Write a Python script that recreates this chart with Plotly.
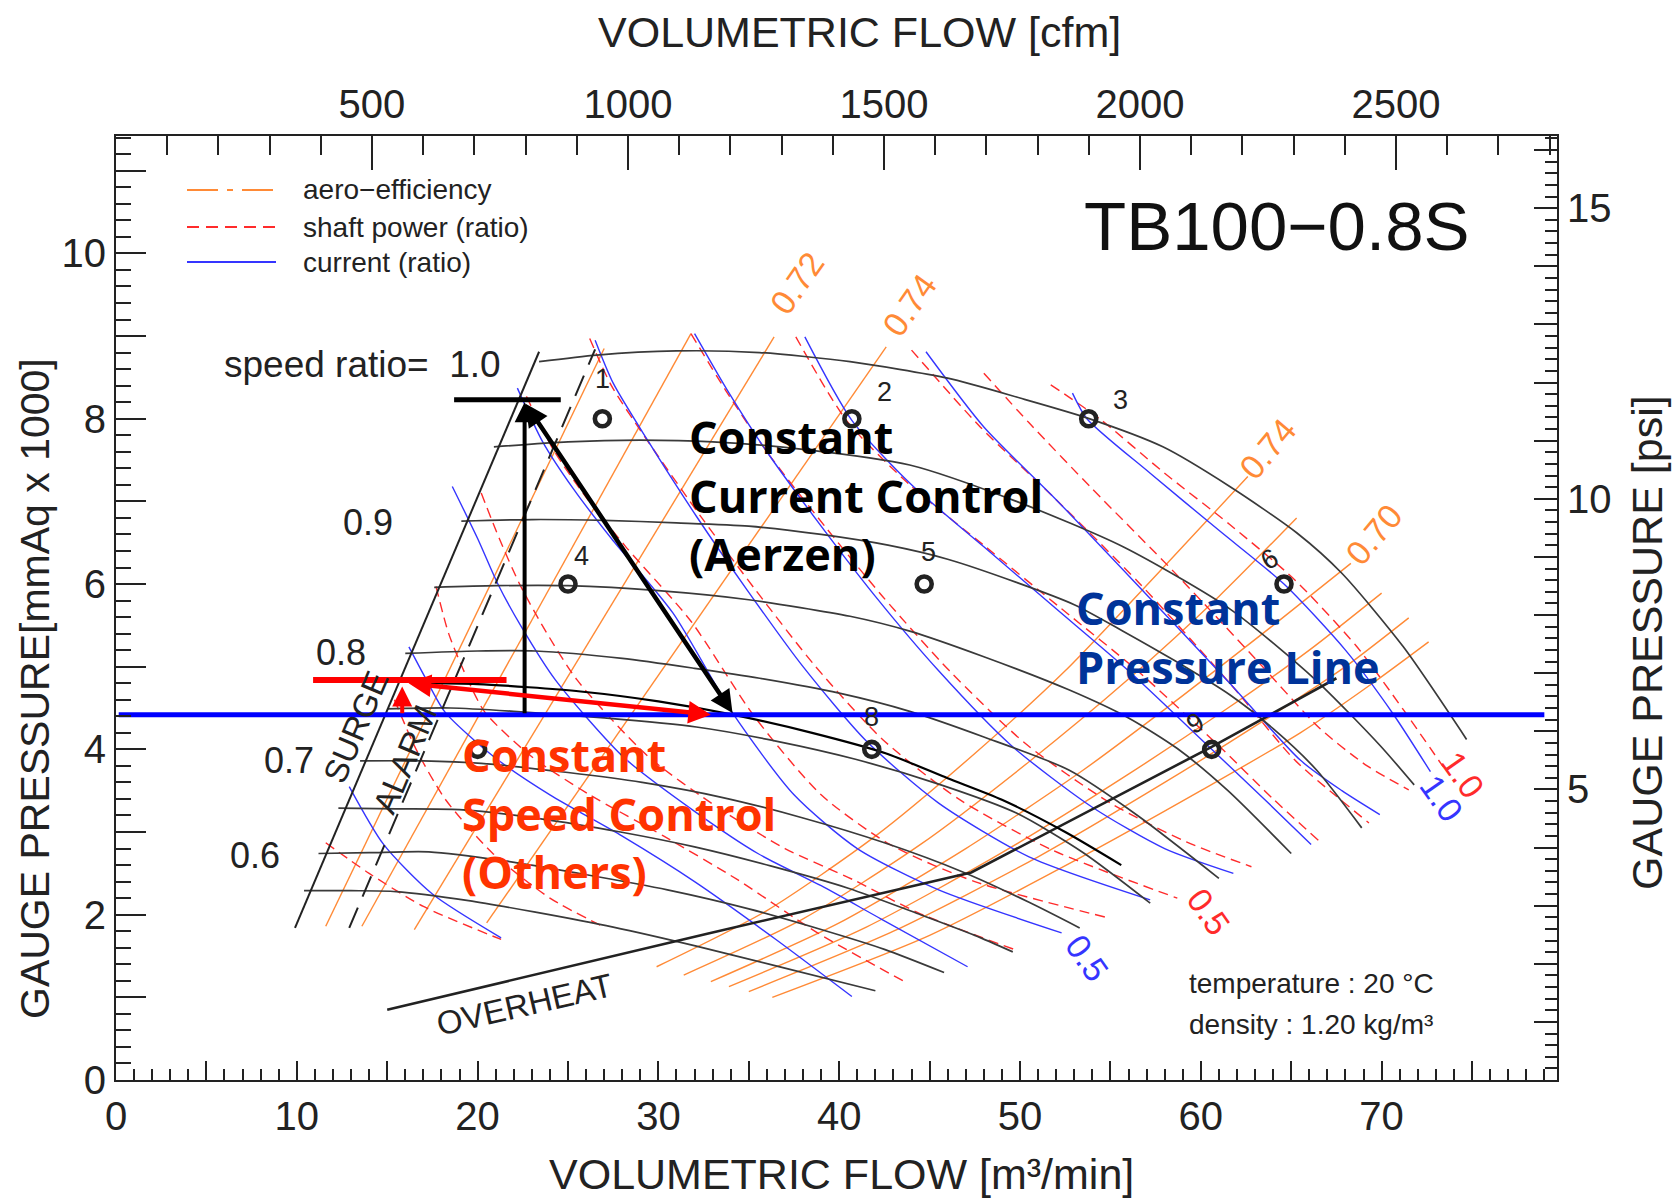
import plotly.graph_objects as go

# ------------------------------------------------------------------
# Frame extents and unit conversions
# ------------------------------------------------------------------
FLOW_MAX = 79.7            # m3/min at right frame edge
PRES_MAX = 11.42           # mmAq x 1000 at top frame edge
CFM_PER_M3MIN = 35.3147
PSI_PER_KMMAQ = 1.4223

# ------------------------------------------------------------------
# Speed lines  (flow m3/min, gauge pressure mmAq x 1000)
# ------------------------------------------------------------------
spd_100_q = [23.4, 26.6, 31.0, 35.6, 40.6, 46.0, 50.0, 53.7, 57.9, 61.6, 65.3, 67.8, 71.2, 74.7]
spd_100_p = [8.69, 8.77, 8.82, 8.80, 8.69, 8.49, 8.25, 8.01, 7.66, 7.18, 6.62, 6.13, 5.24, 4.12]
spd_095_q = [20.9, 25.0, 29.0, 33.0, 38.0, 43.9, 49.8, 55.7, 61.6, 66.3, 69.9, 71.8]
spd_095_p = [7.66, 7.72, 7.74, 7.72, 7.63, 7.44, 7.00, 6.45, 5.70, 4.85, 4.05, 3.57]
spd_090_q = [19.1, 23.0, 27.0, 31.0, 35.0, 39.0, 42.7, 46.0, 49.8, 53.0, 55.7, 58.5, 61.6, 64.0, 66.4, 68.9]
spd_090_p = [6.76, 6.78, 6.77, 6.74, 6.70, 6.60, 6.47, 6.30, 6.02, 5.75, 5.43, 5.08, 4.66, 4.25, 3.75, 3.05]
spd_085_q = [17.6, 21.0, 25.0, 30.0, 35.0, 40.6, 43.9, 48.0, 52.7, 56.0, 58.7, 61.5, 65.0]
spd_085_p = [5.96, 5.98, 5.98, 5.92, 5.81, 5.61, 5.43, 5.12, 4.72, 4.38, 4.01, 3.50, 2.74]
spd_080_q = [16.0, 20.0, 23.2, 28.0, 32.0, 35.6, 40.0, 43.9, 48.0, 52.7, 56.5, 61.0]
spd_080_p = [5.16, 5.19, 5.19, 5.10, 4.98, 4.86, 4.68, 4.46, 4.15, 3.75, 3.20, 2.44]
spd_075_q = [15.0, 18.5, 22.0, 27.0, 32.1, 36.5, 40.9, 45.5, 49.8, 53.5, 57.2]
spd_075_p = [4.49, 4.50, 4.46, 4.38, 4.27, 4.10, 3.88, 3.58, 3.23, 2.75, 2.14]
spd_070_q = [13.5, 17.0, 20.2, 25.0, 29.1, 33.5, 38.0, 42.5, 46.8, 50.5, 53.3]
spd_070_p = [3.86, 3.86, 3.83, 3.72, 3.60, 3.42, 3.17, 2.87, 2.52, 2.15, 1.84]
spd_065_q = [12.3, 15.5, 19.0, 23.5, 27.9, 32.0, 36.2, 40.5, 44.5, 47.5, 49.6]
spd_065_p = [3.29, 3.28, 3.27, 3.16, 3.00, 2.82, 2.59, 2.32, 2.00, 1.75, 1.55]
spd_060_q = [11.2, 14.0, 17.3, 21.5, 26.1, 30.5, 35.0, 39.0, 42.5, 45.8]
spd_060_p = [2.74, 2.75, 2.76, 2.65, 2.48, 2.30, 2.07, 1.82, 1.58, 1.30]
spd_055_q = [10.4, 13.0, 15.5, 19.5, 23.2, 27.5, 32.1, 36.5, 42.0]
spd_055_p = [2.29, 2.29, 2.28, 2.17, 2.03, 1.85, 1.62, 1.38, 1.08]

# ------------------------------------------------------------------
# Current ratio lines
# ------------------------------------------------------------------
cur_02_q = [12.9, 14.8, 17.5, 21.3]
cur_02_p = [3.55, 2.85, 2.25, 1.72]
cur_03_q = [16.2, 17.1, 18.2, 20.9, 24.0, 28.0, 32.0, 36.5, 40.7]
cur_03_p = [5.24, 4.87, 4.45, 3.91, 3.45, 2.95, 2.40, 1.70, 1.01]
cur_04_q = [18.6, 20.0, 21.1, 22.4, 24.3, 28.1, 32.0, 35.5, 39.0, 42.3, 47.1]
cur_04_p = [7.18, 6.55, 6.01, 5.49, 4.84, 3.90, 3.25, 2.74, 2.35, 1.95, 1.37]
cur_05_q = [22.2, 23.6, 25.3, 27.4, 30.8, 34.1, 37.5, 41.0, 45.5, 52.3]
cur_05_p = [8.37, 7.72, 7.15, 6.55, 5.65, 4.44, 3.45, 2.80, 2.30, 1.78]
cur_06_q = [26.5, 27.5, 29.4, 32.1, 34.9, 38.0, 41.5, 45.5, 50.5, 57.2]
cur_06_p = [8.95, 8.43, 7.74, 6.82, 5.93, 5.00, 4.10, 3.35, 2.70, 2.18]
cur_07_q = [32.0, 33.8, 36.0, 39.0, 42.0, 45.5, 49.5, 54.0, 58.0, 61.8]
cur_07_p = [9.03, 8.35, 7.60, 6.70, 5.85, 4.95, 4.05, 3.30, 2.80, 2.50]
cur_08_q = [38.1, 40.7, 44.0, 48.0, 52.0, 56.0, 60.6, 63.5, 66.1]
cur_08_p = [8.99, 7.98, 7.20, 6.45, 5.70, 4.95, 4.00, 3.40, 2.85]
cur_09_q = [44.8, 48.0, 52.0, 56.4, 61.6, 65.5, 67.8, 69.9]
cur_09_p = [8.81, 7.90, 7.02, 6.01, 4.80, 3.87, 3.50, 3.21]
cur_10_q = [52.9, 53.7, 57.2, 61.0, 64.6, 68.0, 70.6, 72.7]
cur_10_p = [8.31, 8.00, 7.34, 6.65, 6.00, 5.20, 4.44, 3.73]

# ------------------------------------------------------------------
# Shaft power ratio lines (0.5 ... 1.0 are pow_05 ... pow_10)
# ------------------------------------------------------------------
pow_00_q = [11.6, 14.0, 17.0, 21.3]
pow_00_p = [2.87, 2.50, 2.10, 1.70]
pow_01_q = [15.4, 16.6, 18.2, 20.8, 24.0, 27.0]
pow_01_p = [4.60, 4.00, 3.40, 2.75, 2.20, 1.85]
pow_02_q = [17.7, 18.4, 19.4, 20.4, 23.0, 26.2, 30.3, 34.4, 38.8, 43.7]
pow_02_p = [5.97, 5.40, 4.87, 4.45, 3.91, 3.45, 2.95, 2.42, 1.78, 1.18]
pow_03_q = [20.2, 21.2, 22.3, 23.6, 25.5, 29.4, 33.4, 37.0, 40.8, 44.4, 49.8]
pow_03_p = [7.10, 6.55, 6.01, 5.49, 4.84, 3.92, 3.28, 2.80, 2.42, 2.02, 1.57]
pow_04_q = [22.7, 24.2, 26.0, 28.2, 31.8, 35.3, 39.0, 42.8, 47.5, 54.9]
pow_04_p = [8.27, 7.62, 7.05, 6.45, 5.55, 4.40, 3.45, 2.85, 2.40, 1.96]
pow_05_q = [26.2, 27.4, 29.5, 32.4, 35.4, 38.7, 42.4, 46.6, 51.8, 58.7]
pow_05_p = [8.97, 8.40, 7.70, 6.80, 5.92, 5.00, 4.12, 3.40, 2.78, 2.20]
pow_06_q = [31.8, 33.7, 36.0, 39.2, 42.4, 46.1, 50.3, 55.0, 59.2, 62.8]
pow_06_p = [9.03, 8.35, 7.60, 6.70, 5.85, 4.95, 4.07, 3.35, 2.88, 2.58]
pow_07_q = [37.6, 40.4, 43.9, 48.1, 52.3, 56.5, 61.2, 64.0, 66.5]
pow_07_p = [8.99, 7.98, 7.20, 6.45, 5.70, 4.95, 4.00, 3.40, 2.90]
pow_08_q = [44.0, 47.8, 52.0, 56.6, 61.6, 65.2, 67.4, 69.3]
pow_08_p = [8.83, 7.90, 7.02, 6.01, 4.80, 3.87, 3.45, 3.11]
pow_09_q = [48.0, 50.5, 54.0, 58.5, 63.0, 66.6, 69.2, 71.5]
pow_09_p = [8.55, 7.95, 7.15, 6.15, 5.10, 4.25, 3.80, 3.51]
pow_10_q = [51.7, 54.4, 58.0, 61.6, 65.2, 68.6, 71.2, 73.4]
pow_10_p = [8.41, 8.00, 7.34, 6.72, 6.05, 5.25, 4.48, 3.79]

# ------------------------------------------------------------------
# Aero-efficiency lines (left flank rising to the top, right flank)
# ------------------------------------------------------------------
eff_l1_q = [11.6, 27.0]
eff_l1_p = [1.86, 8.85]
eff_l2_q = [13.6, 31.8]
eff_l2_p = [1.86, 9.03]
eff_l3_q = [16.5, 36.4]          # 0.72
eff_l3_p = [1.82, 8.99]
eff_l4_q = [20.5, 42.6]          # 0.74
eff_l4_p = [1.90, 8.87]
eff_r1_q = [29.9, 36.0, 42.0, 47.5, 52.5, 57.5, 62.6]   # 0.74
eff_r1_p = [1.37, 2.05, 2.95, 3.95, 4.95, 6.10, 7.30]
eff_r2_q = [31.4, 38.0, 44.5, 50.5, 56.0, 61.0, 65.3]   # 0.72
eff_r2_p = [1.27, 1.95, 2.85, 3.85, 4.85, 5.85, 6.80]
eff_r3_q = [32.9, 40.0, 47.0, 53.5, 59.0, 64.0, 68.3]   # 0.70
eff_r3_p = [1.19, 1.90, 2.80, 3.75, 4.65, 5.50, 6.25]
eff_r4_q = [33.9, 41.5, 49.0, 56.0, 61.5, 66.0, 70.0]
eff_r4_p = [1.13, 1.85, 2.75, 3.70, 4.50, 5.20, 5.89]
eff_r5_q = [35.0, 43.0, 51.0, 58.0, 63.5, 68.0, 71.5]
eff_r5_p = [1.07, 1.80, 2.70, 3.60, 4.35, 5.00, 5.59]
eff_r6_q = [36.3, 45.0, 53.0, 60.0, 65.5, 69.5, 72.6]
eff_r6_p = [1.00, 1.75, 2.65, 3.50, 4.20, 4.80, 5.30]

# ------------------------------------------------------------------
# Limits, operating curve, test points, control annotations
# ------------------------------------------------------------------
surge_q = [9.9, 23.4]
surge_p = [1.84, 8.81]
alarm_q = [12.9, 26.5]
alarm_p = [1.84, 8.84]
overheat_q = [15.0, 32.7, 47.3, 60.6, 67.5]
overheat_p = [0.85, 1.77, 2.51, 4.03, 4.86]
system_q = [16.5, 20.0, 25.7, 30.0, 34.1, 38.5, 42.6, 46.0, 49.0, 52.5, 55.6]
system_p = [4.80, 4.79, 4.70, 4.58, 4.42, 4.20, 3.95, 3.65, 3.39, 3.00, 2.60]

test_q = [26.9, 40.7, 53.8, 25.0, 44.7, 64.6, 20.0, 41.8, 60.6]
test_p = [8.0, 8.0, 8.0, 6.0, 6.0, 6.0, 4.0, 4.0, 4.0]
test_id = ["1", "2", "3", "4", "5", "6", "7", "8", "9"]

setpoint_p = 4.42                 # constant pressure line
surge_start_q, surge_start_p = 22.6, 8.20      # full-speed surge point
cc_end_q, cc_end_p = 34.1, 4.44                # constant current end point
cs_start_q, cs_start_p = 16.1, 4.80            # constant speed surge point
cs_end_q, cs_end_p = 32.9, 4.42
cs_riser_q = 15.83
bar_top_q = [18.7, 24.6]
bar_top_p = 8.23
bar_red_q = [10.9, 21.6]
bar_red_p = 4.84

# ------------------------------------------------------------------
ORANGE = "#FF8A36"
RED = "#FF2B2B"
BLUE = "#3535FF"
INK = "#222222"
SPEED = "#3a3a3a"
FONT = "Liberation Sans"

fig = go.Figure()


def curve(q, p, color, width, dash="solid", shape="spline"):
    fig.add_trace(go.Scatter(
        x=q, y=p, mode="lines", hoverinfo="skip", showlegend=False,
        line=dict(color=color, width=width, dash=dash, shape=shape, smoothing=0.7)))


for q, p in [(eff_l1_q, eff_l1_p), (eff_l2_q, eff_l2_p), (eff_l3_q, eff_l3_p), (eff_l4_q, eff_l4_p)]:
    curve(q, p, ORANGE, 1.4, shape="linear")
for q, p in [(eff_r1_q, eff_r1_p), (eff_r2_q, eff_r2_p), (eff_r3_q, eff_r3_p),
             (eff_r4_q, eff_r4_p), (eff_r5_q, eff_r5_p), (eff_r6_q, eff_r6_p)]:
    curve(q, p, ORANGE, 1.4)

for q, p in [(pow_00_q, pow_00_p), (pow_01_q, pow_01_p), (pow_02_q, pow_02_p), (pow_03_q, pow_03_p),
             (pow_04_q, pow_04_p), (pow_05_q, pow_05_p), (pow_06_q, pow_06_p), (pow_07_q, pow_07_p),
             (pow_08_q, pow_08_p), (pow_09_q, pow_09_p), (pow_10_q, pow_10_p)]:
    curve(q, p, RED, 1.4, dash="10px,6px")

for q, p in [(cur_02_q, cur_02_p), (cur_03_q, cur_03_p), (cur_04_q, cur_04_p), (cur_05_q, cur_05_p),
             (cur_06_q, cur_06_p), (cur_07_q, cur_07_p), (cur_08_q, cur_08_p), (cur_09_q, cur_09_p),
             (cur_10_q, cur_10_p)]:
    curve(q, p, BLUE, 1.4)

for q, p in [(spd_100_q, spd_100_p), (spd_095_q, spd_095_p), (spd_090_q, spd_090_p),
             (spd_085_q, spd_085_p), (spd_080_q, spd_080_p), (spd_075_q, spd_075_p),
             (spd_070_q, spd_070_p), (spd_065_q, spd_065_p), (spd_060_q, spd_060_p),
             (spd_055_q, spd_055_p)]:
    curve(q, p, SPEED, 1.7)

curve(surge_q, surge_p, INK, 2.0, shape="linear")
curve(alarm_q, alarm_p, INK, 2.0, dash="22px,12px", shape="linear")
curve(overheat_q, overheat_p, INK, 2.6, shape="linear")
curve(system_q, system_p, "#000000", 2.2)

# test points
fig.add_trace(go.Scatter(
    x=test_q, y=test_p, mode="markers", hoverinfo="skip", showlegend=False,
    marker=dict(symbol="circle-open", size=15, color=INK, line=dict(width=4.6, color=INK))))

# constant pressure line
fig.add_trace(go.Scatter(
    x=[0.15, 79.0], y=[setpoint_p, setpoint_p], mode="lines", hoverinfo="skip",
    showlegend=False, line=dict(color="#0000FF", width=5)))

# dummy trace so the cfm / psi axes are created
fig.add_trace(go.Scatter(x=[None], y=[None], xaxis="x2", yaxis="y2", showlegend=False,
                         hoverinfo="skip"))

# ------------------------------------------------------------------
# Control annotations: bars, arrows
# ------------------------------------------------------------------
shapes = [
    dict(type="line", xref="x", yref="y", x0=bar_top_q[0], x1=bar_top_q[1], y0=bar_top_p, y1=bar_top_p,
         line=dict(color="#000000", width=5)),
    dict(type="line", xref="x", yref="y", x0=bar_red_q[0], x1=bar_red_q[1], y0=bar_red_p, y1=bar_red_p,
         line=dict(color="#FF0000", width=6)),
]


def arrow(x0, y0, x1, y1, color, width, both=False):
    fig.add_annotation(x=x1, y=y1, ax=x0, ay=y0, xref="x", yref="y", axref="x", ayref="y",
                       text="", showarrow=True, arrowhead=2, arrowsize=1.0, arrowwidth=width,
                       arrowcolor=color, arrowside="end+start" if both else "end",
                       startarrowhead=2, startarrowsize=1.0)


arrow(surge_start_q, setpoint_p, surge_start_q, surge_start_p, "#000000", 4)
arrow(surge_start_q, surge_start_p, cc_end_q, cc_end_p, "#000000", 4.5, both=True)
arrow(cs_riser_q, setpoint_p, cs_riser_q, 4.76, "#FF0000", 4)
arrow(cs_start_q, cs_start_p, cs_end_q, cs_end_p, "#FF0000", 4.5, both=True)

# ------------------------------------------------------------------
# Texts
# ------------------------------------------------------------------
def note(x, y, text, size, color=INK, angle=0, xanchor="center", yanchor="middle", family=FONT,
         xref="x", yref="y", align="center"):
    fig.add_annotation(x=x, y=y, xref=xref, yref=yref, text=text, showarrow=False,
                       textangle=angle, xanchor=xanchor, yanchor=yanchor, align=align,
                       font=dict(family=family, size=size, color=color))


# test point numbers
offsets = {"1": (0, 40), "2": (33, 27), "3": (32, 19), "4": (13, 28), "5": (4, 32),
           "6": (-14, 25), "8": (0, 32), "9": (-16, 26)}
for q, p, tid in zip(test_q, test_p, test_id):
    if tid in offsets:
        dx, dy = offsets[tid]
        fig.add_annotation(x=q, y=p, xref="x", yref="y", text=tid, showarrow=False,
                           xshift=dx, yshift=dy, textangle=-30 if tid in ("6", "9") else 0,
                           font=dict(family=FONT, size=27, color=INK))

# speed ratio labels
note(21.4, 8.66, "speed ratio=  1.0", 37, xanchor="right")
note(13.96, 6.75, "0.9", 36)
note(12.42, 5.17, "0.8", 36)
note(9.58, 3.86, "0.7", 36)
note(7.69, 2.72, "0.6", 36)

note(13.24, 4.27, "SURGE", 33, angle=-67)
note(15.97, 3.88, "ALARM", 33, angle=-67)
note(22.59, 0.91, "OVERHEAT", 33, angle=-13)

# contour labels
note(37.67, 9.64, "0.72", 34, color=ORANGE, angle=-55)
note(43.87, 9.38, "0.74", 34, color=ORANGE, angle=-55)
note(63.69, 7.63, "0.74", 34, color=ORANGE, angle=-50)
note(69.6, 6.6, "0.70", 34, color=ORANGE, angle=-50)
note(60.4, 2.04, "0.5", 34, color=RED, angle=55)
note(74.5, 3.69, "1.0", 34, color=RED, angle=55)
note(73.3, 3.41, "1.0", 34, color=BLUE, angle=55)
note(53.7, 1.47, "0.5", 34, color=BLUE, angle=55)

note(64.2, 10.32, "TB100\u22120.8S", 69, color="#111111")
note(59.25, 1.164, "temperature : 20 \u00b0C", 28, xanchor="left")
note(59.25, 0.673, "density : 1.20 kg/m\u00b3", 28, xanchor="left")

# control strategy labels
note(31.58, 7.08, "<b>Constant<br>Current Control<br>(Aerzen)</b>", 45, color="#000000",
     xanchor="left", family="Open Sans", align="left")
note(19.04, 3.23, "<b>Constant<br>Speed Control<br>(Others)</b>", 45, color="#FF3300",
     xanchor="left", family="Open Sans", align="left")
note(52.99, 5.36, "<b>Constant<br>Pressure Line</b>", 45, color="#003399",
     xanchor="left", family="Open Sans", align="left")


# ------------------------------------------------------------------
# Legend drawn in paper space
# ------------------------------------------------------------------
def px_x(px):
    return (px - 116) / 1441.0


def px_y(py):
    return (1080 - py) / 944.0


legend_rows = [("aero\u2212efficiency", ORANGE, "31px,9px,6px,9px", 190),
               ("shaft power (ratio)", RED, "12px,7px", 227),
               ("current (ratio)", BLUE, "solid", 262)]
for label, color, dash, py in legend_rows:
    shapes.append(dict(type="line", xref="paper", yref="paper", x0=px_x(187), x1=px_x(276),
                       y0=px_y(py), y1=px_y(py), line=dict(color=color, width=2, dash=dash)))
    note(px_x(301), px_y(py), label, 28, xanchor="left", xref="paper", yref="paper")

# axis titles
note(px_x(841), px_y(1174), "VOLUMETRIC FLOW [m\u00b3/min]", 43, xref="paper", yref="paper")
note(px_x(859), px_y(32), "VOLUMETRIC FLOW [cfm]", 43, xref="paper", yref="paper")
note(px_x(35), px_y(689), "GAUGE PRESSURE[mmAq x 1000]", 41, angle=-90, xref="paper", yref="paper")
note(px_x(1647), px_y(642), "GAUGE PRESSURE [psi]", 43, angle=-90, xref="paper", yref="paper")

# ------------------------------------------------------------------
# Axes
# ------------------------------------------------------------------
tick_font = dict(family=FONT, size=40, color=INK)
axis_common = dict(showgrid=False, zeroline=False, showline=True, linecolor=INK, linewidth=2,
                   ticks="inside", tickcolor=INK, tickwidth=2, tickfont=tick_font, automargin=False)

x_major = list(range(0, 76, 5))
y_major = list(range(0, 12))
cfm_major = [500, 1000, 1500, 2000, 2500]
psi_major = list(range(0, 17))

fig.update_layout(
    width=1677, height=1199,
    margin=dict(l=116, r=120, t=136, b=119, pad=0),
    paper_bgcolor="white", plot_bgcolor="white",
    showlegend=False,
    shapes=shapes,
    xaxis=dict(range=[0, FLOW_MAX], tickvals=x_major,
               ticktext=[str(v) if v % 10 == 0 else " " for v in x_major], ticklen=19,
               minor=dict(tickmode="linear", tick0=0, dtick=1, ticks="inside", ticklen=11,
                          tickwidth=1.6, tickcolor=INK), **axis_common),
    yaxis=dict(range=[0, PRES_MAX], tickvals=y_major,
               ticktext=[str(v) if v % 2 == 0 else " " for v in y_major], ticklen=30,
               minor=dict(tickmode="linear", tick0=0, dtick=0.2, ticks="inside", ticklen=15,
                          tickwidth=1.6, tickcolor=INK), **axis_common),
    xaxis2=dict(range=[0, FLOW_MAX * CFM_PER_M3MIN], overlaying="x", side="top", anchor="y",
                tickvals=cfm_major, ticktext=[str(v) for v in cfm_major], ticklen=34,
                minor=dict(tickmode="linear", tick0=0, dtick=100, ticks="inside", ticklen=19,
                           tickwidth=1.6, tickcolor=INK), **axis_common),
    yaxis2=dict(range=[0, PRES_MAX * PSI_PER_KMMAQ], overlaying="y", side="right", anchor="x",
                tickvals=psi_major,
                ticktext=[str(v) if v % 5 == 0 and v > 0 else " " for v in psi_major],
                ticklen=23,
                minor=dict(tickmode="linear", tick0=0, dtick=0.2, ticks="inside", ticklen=12,
                           tickwidth=1.6, tickcolor=INK), **axis_common),
)

fig.write_html("out.html")
